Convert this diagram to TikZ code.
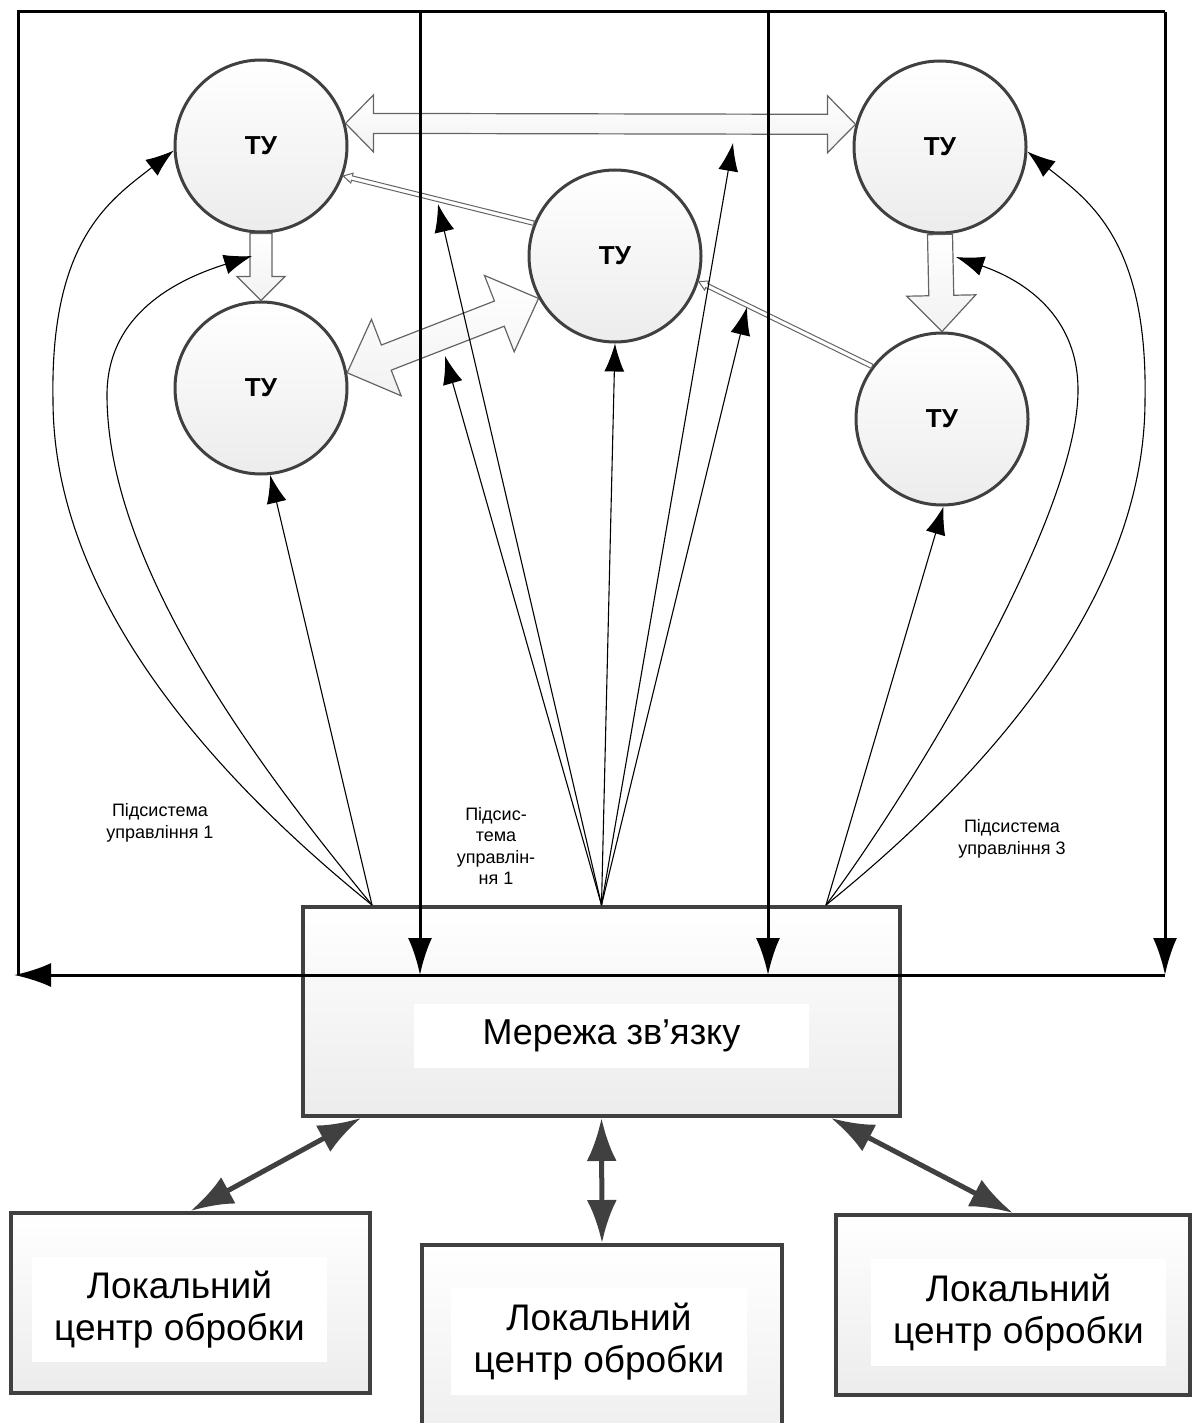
\documentclass[tikz,border=0pt]{standalone}
\usepackage{fontspec}
\setmainfont{Liberation Sans}
\usepackage{tikz}
\usetikzlibrary{arrows.meta,calc}
\definecolor{dark_gray}{RGB}{64,64,64}
\definecolor{edge_gray}{RGB}{100,100,100}
\definecolor{light_gray}{RGB}{236,236,236}

\newcommand{\dblblock}[6]{\draw[#1] (#2) -- ($(#2)!#6!(#3)!#5!90:(#3)$) -- ($(#2)!#6!(#3)!#4!90:(#3)$) -- ($(#3)!#6!(#2)!#4!-90:(#2)$) -- ($(#3)!#6!(#2)!#5!-90:(#2)$) -- (#3) -- ($(#3)!#6!(#2)!#5!90:(#2)$) -- ($(#3)!#6!(#2)!#4!90:(#2)$) -- ($(#2)!#6!(#3)!#4!-90:(#3)$) -- ($(#2)!#6!(#3)!#5!-90:(#3)$) -- cycle;}
\newcommand{\oneblock}[6]{\draw[#1] ($(#2)!#4!90:(#3)$) -- ($(#3)!#6!(#2)!#4!-90:(#2)$) -- ($(#3)!#6!(#2)!#5!-90:(#2)$) -- (#3) -- ($(#3)!#6!(#2)!#5!90:(#2)$) -- ($(#3)!#6!(#2)!#4!90:(#2)$) -- ($(#2)!#4!-90:(#3)$) -- cycle;}

\begin{document}
\begin{tikzpicture}[x=1pt,y=-1pt,
	tu/.style={circle,draw=dark_gray,line width=3pt,minimum size=172pt,inner sep=0pt,top color=white,bottom color=light_gray,font=\bfseries\fontsize{26}{30}\selectfont},
	netbox/.style={draw=dark_gray,line width=4pt,top color=white,bottom color=light_gray,inner sep=0pt},
	textbox/.style={fill=white,inner sep=0pt,align=center},
	block/.style={draw=edge_gray,line width=1.2pt,top color=white,bottom color=light_gray!70!white},
	thinblock/.style={draw=edge_gray,line width=1pt,fill=white},
	fan/.style={line width=1.1pt,-{Latex[length=28pt,width=20pt]}},
	framing/.style={line width=3pt},
	framearrow/.style={line width=3pt,-{Latex[length=37pt,width=24pt]}},
	linkarrow/.style={draw=dark_gray,line width=5pt,{Latex[length=43pt,width=30pt]}-{Latex[length=43pt,width=30pt]}},
	subsys/.style={font=\fontsize{18}{21.5}\selectfont,align=center}]
	\path[use as bounding box,clip] (0,0) rectangle (1192,1423);

	\node[tu] (tl) at (261,146) {ТУ};
	\node[tu] (bl) at (261,388) {ТУ};
	\node[tu] (mc) at (615,256) {ТУ};
	\node[tu] (tr) at (940,147) {ТУ};
	\node[tu] (br) at (942,419) {ТУ};

	\dblblock{block}{tl.15}{tr.165}{10pt}{28.5pt}{28pt}
	\dblblock{block}{bl.10}{mc.209}{13.5pt}{41pt}{42pt}
	\oneblock{block}{tl.south}{bl.north}{11pt}{24pt}{24pt}
	\oneblock{block}{tr.south}{br.north}{12.5pt}{34.5pt}{36pt}
	\oneblock{thinblock}{mc.158}{tl.-20}{2.2pt}{5pt}{9pt}
	\oneblock{thinblock}{br.143}{mc.-17}{2.2pt}{5pt}{9pt}

	\node[netbox,minimum width=597pt,minimum height=209pt] (net) at (601.5,1011.5) {};
	\node[textbox,minimum width=395pt,minimum height=64pt,font=\fontsize{36}{40}\selectfont] (nettext) at (611.5,1036) {Мережа зв’язку};

	\node[netbox,minimum width=359pt,minimum height=180pt] (lc1) at (190.5,1303) {};
	\node[netbox,minimum width=360pt,minimum height=220pt] (lc2) at (602,1355) {};
	\node[netbox,minimum width=354pt,minimum height=180pt] (lc3) at (1013,1305) {};
	\node[textbox,minimum width=295pt,minimum height=105pt,font=\fontsize{37}{42}\selectfont] (lc1text) at (179.5,1309.5) {Локальний\\центр обробки};
	\node[textbox,minimum width=296pt,minimum height=107pt,font=\fontsize{37}{42}\selectfont] (lc2text) at (599,1341.5) {Локальний\\центр обробки};
	\node[textbox,minimum width=295pt,minimum height=107pt,font=\fontsize{37}{42}\selectfont] (lc3text) at (1018.5,1312.5) {Локальний\\центр обробки};

	\draw[linkarrow] ([xshift=60pt]net.south west) -- (lc1.north);
	\draw[linkarrow] (net.south) -- (lc2.north);
	\draw[linkarrow] ([xshift=-71pt]net.south east) -- (lc3.north);

	\draw[framing] (18,975) -- (18,12) -- (1165,12);
	\foreach \xx in {420,768,1165}
		\draw[framearrow] (\xx,12) -- (\xx,975);
	\draw[framearrow] (1165,975) -- (14,975);

	\coordinate (fanL) at ([xshift=71pt]net.north west);
	\coordinate (fanM) at (net.north);
	\coordinate (fanR) at ([xshift=-76pt]net.north east);
	\coordinate (gapL) at (252,256);
	\coordinate (gapR) at (956,257);
	\coordinate (m1) at (438,204);
	\coordinate (m2) at (445,356);
	\coordinate (m4) at (733,143);
	\coordinate (m5) at (747,307);

	\draw[fan] (fanL) .. controls (216,779) and (53,600) .. (53,400) .. controls (50,240) and (110,200) .. (tl.183);
	\draw[fan] (fanL) .. controls (277,789) and (107,575) .. (107,395) .. controls (107,315) and (175,280) .. (gapL);
	\draw[fan] (fanL) -- (bl.-84);
	\foreach \t in {m1,m2,mc.south,m4,m5}
		\draw[fan] (fanM) -- (\t);
	\draw[fan] (fanR) .. controls (982,779) and (1145,600) .. (1145,400) .. controls (1148,240) and (1088,200) .. (tr.-3);
	\draw[fan] (fanR) .. controls (905,800) and (1078,520) .. (1078,390) .. controls (1078,315) and (1023,280) .. (gapR);
	\draw[fan] (fanR) -- (br.-89);

	\node[subsys] (sub1) at (160,823) {Підсистема\\управління 1};
	\node[subsys] (sub2) at (496,846) {Підсис-\\тема\\управлін-\\ня 1};
	\node[subsys] (sub3) at (1012,839) {Підсистема\\управління 3};
\end{tikzpicture}
\end{document}
